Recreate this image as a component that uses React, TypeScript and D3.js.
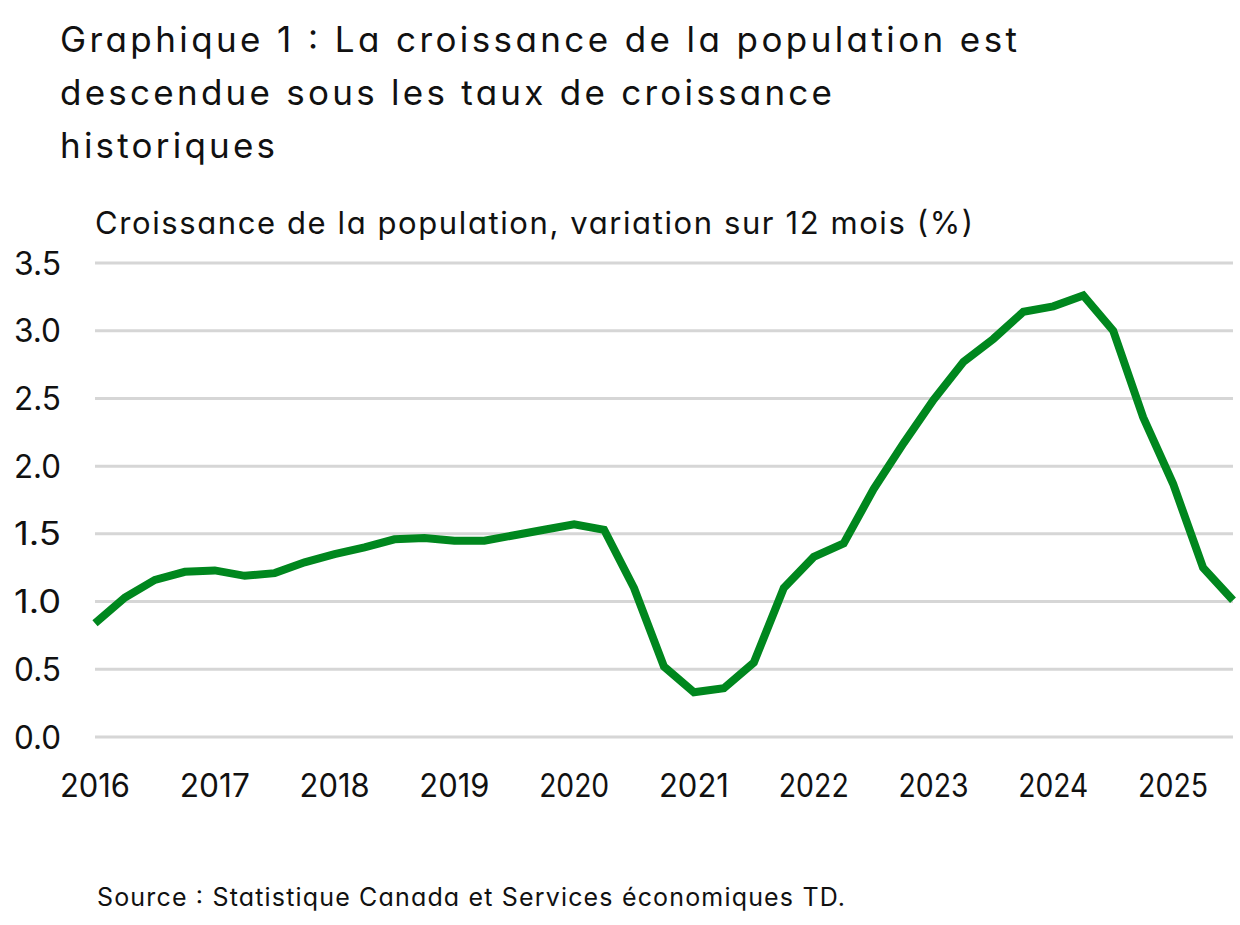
import React from "react";
import * as d3 from "d3";

const titleLines = [
  "Graphique 1 : La croissance de la population est",
  "descendue sous les taux de croissance",
  "historiques",
];
const axisTitle = "Croissance de la population, variation sur 12 mois (%)";
const sourceText = "Source : Statistique Canada et Services économiques TD.";

const yTicks = [0, 0.5, 1.0, 1.5, 2.0, 2.5, 3.0, 3.5];
const xTickYears = [2016, 2017, 2018, 2019, 2020, 2021, 2022, 2023, 2024, 2025];

// Quarterly, starting 2016 Q1
const startYear = 2016;
const growth = [
  0.84, 1.03, 1.16, 1.22, 1.23, 1.19, 1.21, 1.29, 1.35, 1.40,
  1.46, 1.47, 1.45, 1.45, 1.49, 1.53, 1.57, 1.53, 1.10, 0.52,
  0.33, 0.36, 0.55, 1.10, 1.33, 1.43, 1.83, 2.17, 2.49, 2.77,
  2.94, 3.14, 3.18, 3.26, 3.00, 2.36, 1.87, 1.25, 1.01,
];

const W = 1240;
const H = 925;
const FONT = "Inter, Roboto, 'Noto Sans', sans-serif";
const titleWidths = [957, 772, 215];

export default function App() {
  const x = d3.scaleLinear().domain([2016, 2025.5]).range([95, 1233]);
  const y = d3.scaleLinear().domain([0, 3.5]).range([737, 263]);
  const pts = growth.map((v, i) => [startYear + i * 0.25, v] as [number, number]);
  const line = d3
    .line<[number, number]>()
    .x((d) => x(d[0]))
    .y((d) => y(d[1]));

  return (
    <svg
      width={W}
      height={H}
      style={{
        position: "absolute",
        left: 0,
        top: 0,
        background: "#fff",
        fontFeatureSettings: "'cv11' 1",
      }}
      fontFamily={FONT}
    >
      {titleLines.map((t, i) => (
        <text
          key={i}
          x={60}
          y={52 + i * 53}
          fontSize={35}
          fill="#111"
          textLength={titleWidths[i]}
          lengthAdjust="spacing"
        >
          {t}
        </text>
      ))}
      <text x={95} y={234} fontSize={31} fill="#111" textLength={878} lengthAdjust="spacing">
        {axisTitle}
      </text>
      <g>
        {yTicks.map((t) => (
          <g key={t}>
            <line x1={95} x2={1233} y1={y(t)} y2={y(t)} stroke="#d6d6d6" strokeWidth={3} />
            <text
              x={61}
              y={y(t)}
              dy="0.36em"
              textAnchor="end"
              fontSize={32}
              fill="#111"
              textLength={47}
              lengthAdjust="spacingAndGlyphs"
            >
              {t.toFixed(1)}
            </text>
          </g>
        ))}
      </g>
      <g>
        {xTickYears.map((yr) => (
          <text
            key={yr}
            x={x(yr)}
            y={797}
            textAnchor="middle"
            fontSize={32}
            fill="#111"
            textLength={70}
            lengthAdjust="spacingAndGlyphs"
          >
            {yr}
          </text>
        ))}
      </g>
      <path
        d={line(pts) || ""}
        fill="none"
        stroke="#00871e"
        strokeWidth={8}
        strokeLinejoin="miter"
      />
      <text x={97} y={906} fontSize={25} fill="#111" textLength={748} lengthAdjust="spacing">
        {sourceText}
      </text>
    </svg>
  );
}
